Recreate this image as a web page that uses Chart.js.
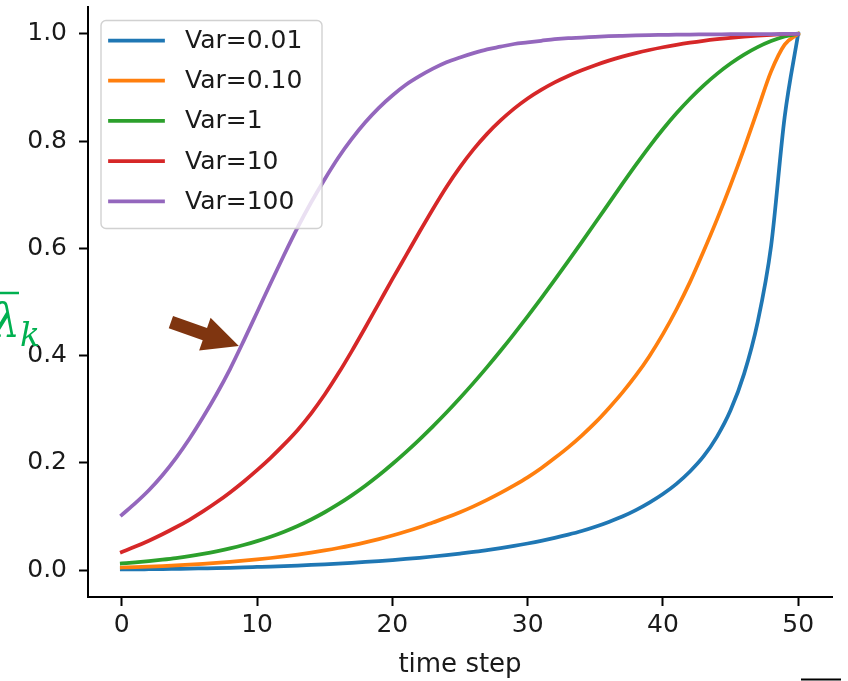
<!DOCTYPE html>
<html>
<head>
<meta charset="utf-8">
<script src="https://cdn.jsdelivr.net/npm/chart.js@4.4.0/dist/chart.umd.min.js"></script>
<style>
  html, body { margin: 0; padding: 0; background: #fff; }
  #wrap { width: 848px; height: 681px; position: relative; }
</style>
</head>
<body>
<div id="wrap"><canvas id="c" width="848" height="681"></canvas></div>
<script>
// time steps on the x axis
const steps = [0,1,2,3,4,5,6,7,8,9,10,11,12,13,14,15,16,17,18,19,20,21,22,23,24,25,
               26,27,28,29,30,31,32,33,34,35,36,37,38,39,40,41,42,43,44,45,46,47,48,49,50];

const seriesLabels = ['Var=0.01', 'Var=0.10', 'Var=1', 'Var=10', 'Var=100'];
const seriesColors = ['#1f77b4', '#ff7f0e', '#2ca02c', '#d62728', '#9467bd'];

// lambda-bar_k per step, one list per variance
const var001 = [0.0013,0.0015,0.0018,0.0021,0.0025,0.0029,0.0034,0.0039,0.0045,0.0052,0.0060,
  0.0068,0.0077,0.0087,0.0098,0.0110,0.0123,0.0137,0.0153,0.0170,0.0189,0.0209,0.0231,0.0255,
  0.0281,0.031,0.034,0.0375,0.0412,0.0452,0.0497,0.0546,0.0601,0.0662,0.073,0.081,0.090,0.100,
  0.112,0.126,0.142,0.161,0.184,0.212,0.249,0.298,0.366,0.462,0.605,0.845,1.0];
const var010 = [0.005,0.0058,0.0067,0.0077,0.0089,0.0102,0.0117,0.0134,0.0154,0.0176,0.0200,
  0.0227,0.0257,0.029,0.0327,0.0368,0.0413,0.0463,0.0518,0.058,0.0647,0.072,0.080,0.089,0.098,
  0.108,0.119,0.131,0.144,0.158,0.173,0.190,0.209,0.229,0.251,0.275,0.302,0.331,0.363,0.399,
  0.440,0.486,0.537,0.594,0.654,0.718,0.786,0.858,0.930,0.980,1.0];
const var1 = [0.0125,0.0145,0.0168,0.0195,0.0225,0.0261,0.0304,0.0352,0.0407,0.0470,0.0542,
  0.0624,0.0718,0.0824,0.0945,0.108,0.123,0.1395,0.1575,0.177,0.198,0.2202,0.2436,0.2682,0.294,
  0.321,0.3492,0.3786,0.4091,0.4407,0.4733,0.5068,0.5411,0.5761,0.6117,0.6477,0.6839,0.7201,
  0.7556,0.7898,0.822,0.8518,0.879,0.9035,0.9253,0.9445,0.9611,0.9751,0.9864,0.9949,1.0];
const var10 = [0.034,0.044,0.055,0.067,0.080,0.094,0.1095,0.1265,0.145,0.165,0.1865,0.2095,
  0.2345,0.2615,0.2925,0.3275,0.3665,0.4085,0.4525,0.4975,0.5425,0.5865,0.6305,0.6735,0.7145,
  0.7515,0.7845,0.8135,0.8385,0.8605,0.8795,0.8955,0.9095,0.9215,0.932,0.9415,0.950,0.9575,
  0.9641,0.9699,0.975,0.9795,0.9835,0.987,0.990,0.9926,0.9948,0.9966,0.9981,0.9993,1.0];
const var100 = [0.103,0.125,0.149,0.177,0.209,0.245,0.285,0.328,0.375,0.427,0.481,0.535,0.588,
  0.639,0.686,0.729,0.769,0.804,0.835,0.862,0.885,0.905,0.921,0.935,0.947,0.956,0.964,0.971,
  0.976,0.981,0.984,0.987,0.990,0.992,0.993,0.9944,0.9955,0.9963,0.9970,0.9976,0.9980,0.9984,
  0.9987,0.9989,0.9991,0.9993,0.9994,0.9995,0.9996,0.9997,1.0];

const seriesValues = [var001, var010, var1, var10, var100];

const xTicks = [0, 10, 20, 30, 40, 50];
const yTicks = [0, 0.2, 0.4, 0.6, 0.8, 1.0];

// point on the Var=100 curve that the arrow indicates
const arrowTarget = { x: 8.65, y: 0.418 };

const FONT = '"DejaVu Sans", sans-serif';
const TEXT = '#1a1a1a';

// boxed legend inside the upper-left corner of the plot
const innerLegend = {
  id: 'innerLegend',
  afterDatasetsDraw(chart) {
    const { ctx, chartArea } = chart;
    const x0 = chartArea.left + 13, y0 = chartArea.top + 13.5;
    const w = 221, h = 208, r = 5;
    ctx.save();
    ctx.beginPath();
    ctx.moveTo(x0 + r, y0);
    ctx.lineTo(x0 + w - r, y0);
    ctx.arcTo(x0 + w, y0, x0 + w, y0 + r, r);
    ctx.lineTo(x0 + w, y0 + h - r);
    ctx.arcTo(x0 + w, y0 + h, x0 + w - r, y0 + h, r);
    ctx.lineTo(x0 + r, y0 + h);
    ctx.arcTo(x0, y0 + h, x0, y0 + h - r, r);
    ctx.lineTo(x0, y0 + r);
    ctx.arcTo(x0, y0, x0 + r, y0, r);
    ctx.closePath();
    ctx.fillStyle = 'rgba(255,255,255,0.8)';
    ctx.fill();
    ctx.strokeStyle = 'rgba(204,204,204,0.9)';
    ctx.lineWidth = 1.4;
    ctx.stroke();

    ctx.font = '25px ' + FONT;
    ctx.textBaseline = 'middle';
    ctx.textAlign = 'left';
    chart.data.datasets.forEach((ds, i) => {
      const yy = y0 + 20 + i * 40.2;
      ctx.beginPath();
      ctx.moveTo(x0 + 9, yy);
      ctx.lineTo(x0 + 62, yy);
      ctx.strokeStyle = ds.borderColor;
      ctx.lineWidth = 3.75;
      ctx.lineCap = 'square';
      ctx.stroke();
      ctx.fillStyle = TEXT;
      ctx.fillText(ds.label, x0 + 84, yy + 1);
    });
    ctx.restore();
  }
};

// arrow, lambda-bar_k symbol and the edge rule
const annotations = {
  id: 'annotations',
  afterDraw(chart) {
    const { ctx } = chart;
    const xs = chart.scales.x, ys = chart.scales.y;
    ctx.save();

    // brown arrow pointing at the Var=100 curve
    const tx = xs.getPixelForValue(arrowTarget.x);
    const ty = ys.getPixelForValue(arrowTarget.y);
    const ang = Math.atan2(23.8, 67.8);
    const len = 72, headLen = 36, headHalf = 17.3, shaftHalf = 6.5;
    ctx.translate(tx, ty);
    ctx.rotate(ang);
    ctx.beginPath();
    ctx.moveTo(0, 0);
    ctx.lineTo(-headLen, -headHalf);
    ctx.lineTo(-headLen, -shaftHalf);
    ctx.lineTo(-len, -shaftHalf);
    ctx.lineTo(-len, shaftHalf);
    ctx.lineTo(-headLen, shaftHalf);
    ctx.lineTo(-headLen, headHalf);
    ctx.closePath();
    ctx.fillStyle = '#7f3510';
    ctx.fill();
    ctx.setTransform(1, 0, 0, 1, 0, 0);

    // lambda with overline and subscript k
    ctx.fillStyle = '#00b050';
    ctx.strokeStyle = '#00b050';
    ctx.textBaseline = 'alphabetic';
    ctx.textAlign = 'left';
    ctx.font = 'italic 46px "DejaVu Serif", serif';
    ctx.fillText('λ', -9, 337);
    ctx.font = 'italic 33px "DejaVu Serif", serif';
    ctx.fillText('k', 20, 346);
    ctx.beginPath();
    ctx.moveTo(-8, 293);
    ctx.lineTo(19, 293);
    ctx.lineWidth = 2.5;
    ctx.stroke();

    // short rule at the lower-right edge
    ctx.beginPath();
    ctx.moveTo(801, 679.5);
    ctx.lineTo(841, 679.5);
    ctx.strokeStyle = '#000';
    ctx.lineWidth = 2;
    ctx.stroke();
    ctx.restore();
  }
};

const datasets = seriesValues.map((vals, i) => ({
  label: seriesLabels[i],
  data: steps.map((t, j) => ({ x: t, y: vals[j] })),
  borderColor: seriesColors[i],
  backgroundColor: seriesColors[i],
  borderWidth: 3.75,
  pointRadius: 0,
  cubicInterpolationMode: 'monotone',
  fill: false,
  borderCapStyle: 'square',
  borderJoinStyle: 'round',
  order: seriesValues.length - i
}));

const axisGrid = {
  display: true,
  drawOnChartArea: false,
  drawTicks: true,
  tickLength: 9,
  tickWidth: 2,
  tickColor: '#000'
};

new Chart(document.getElementById('c'), {
  type: 'line',
  data: { datasets },
  plugins: [innerLegend, annotations],
  options: {
    responsive: false,
    animation: false,
    devicePixelRatio: 1,
    layout: { padding: { top: 7, right: 16, bottom: 0, left: 0 } },
    plugins: { legend: { display: false }, tooltip: { enabled: false } },
    scales: {
      x: {
        type: 'linear',
        min: -2.5,
        max: 52.5,
        grid: axisGrid,
        border: { display: true, color: '#000', width: 2 },
        afterBuildTicks: axis => { axis.ticks = xTicks.map(v => ({ value: v })); },
        afterFit: axis => { axis.height = 84; axis.paddingLeft = 0; axis.paddingRight = 0; },
        ticks: {
          font: { family: FONT, size: 25 },
          color: TEXT,
          padding: 4,
          maxRotation: 0,
          callback: v => String(v)
        },
        title: {
          display: true,
          text: 'time step',
          font: { family: FONT, size: 26 },
          color: TEXT,
          padding: { top: 0, bottom: 0 }
        }
      },
      y: {
        type: 'linear',
        min: -0.05,
        max: 1.05,
        grid: axisGrid,
        border: { display: true, color: '#000', width: 2 },
        afterBuildTicks: axis => { axis.ticks = yTicks.map(v => ({ value: v })); },
        afterFit: axis => { axis.width = 88; axis.paddingTop = 0; axis.paddingBottom = 0; },
        ticks: {
          font: { family: FONT, size: 25 },
          color: TEXT,
          padding: 12,
          callback: v => Number(v).toFixed(1)
        }
      }
    }
  }
});
</script>
</body>
</html>
